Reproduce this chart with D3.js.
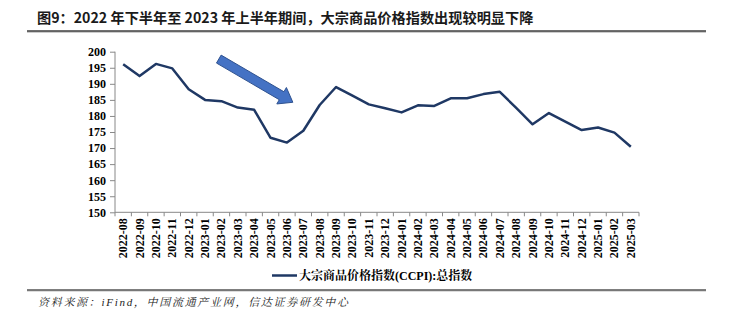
<!DOCTYPE html>
<html><head><meta charset="utf-8">
<script src="https://cdn.jsdelivr.net/npm/d3@7"></script>
<style>body{margin:0;background:#fff}svg{display:block}</style>
</head><body>
<svg id="c" width="734" height="323"></svg>
<script>
const categories = ["2022-08","2022-09","2022-10","2022-11","2022-12","2023-01","2023-02","2023-03","2023-04","2023-05","2023-06","2023-07","2023-08","2023-09","2023-10","2023-11","2023-12","2024-01","2024-02","2024-03","2024-04","2024-05","2024-06","2024-07","2024-08","2024-09","2024-10","2024-11","2024-12","2025-01","2025-02","2025-03"];
const values = [196.1,192.4,196.2,194.8,188.3,185.0,184.6,182.6,181.9,173.2,171.7,175.4,183.4,189.0,186.3,183.6,182.4,181.1,183.3,183.1,185.5,185.5,186.8,187.5,182.5,177.4,180.9,178.2,175.6,176.4,174.8,170.4];
const yTicks = [150,155,160,165,170,175,180,185,190,195,200];
const seriesName = "大宗商品价格指数(CCPI):总指数";
const titleText = "图9：2022 年下半年至 2023 年上半年期间，大宗商品价格指数出现较明显下降";
const sourceText = "资料来源：iFind，中国流通产业网，信达证券研发中心";
// arrow annotation in data terms (category position index, value)
const arrowStart = [5.84, 197.7];
const arrowEnd = [10.36, 184.25];

const svg = d3.select("#c");
const serif = "'Liberation Serif','Times New Roman','Noto Serif CJK SC','Noto Sans CJK SC',serif";
const cjk = "'Noto Sans CJK SC',sans-serif";

// title
svg.append("text").attr("x",37).attr("y",23).attr("font-family",cjk).attr("font-weight","bold")
  .attr("font-size",14.2).attr("fill","#1a1a1a").text(titleText);
svg.append("line").attr("x1",27).attr("x2",706).attr("y1",32).attr("y2",32).attr("stroke","#bbb").attr("stroke-width",1.5);
svg.append("line").attr("x1",27).attr("x2",706).attr("y1",31).attr("y2",31).attr("stroke","#404040").attr("stroke-width",1.6);

const x = d3.scaleBand().domain(categories).range([115,639]);
const y = d3.scaleLinear().domain([150,200]).range([212.3,51.7]);
const xi = i => x(categories[0]) + (i+0.5)*x.step();

// y axis
const ya = svg.append("g").attr("transform","translate(115,0)")
  .call(d3.axisLeft(y).tickValues(yTicks).tickSize(5).tickPadding(4).tickFormat(d3.format("d")));
ya.select(".domain").attr("stroke","#888").attr("d","M0,"+y(150)+"V"+y(200));
ya.selectAll(".tick line").attr("stroke","#888");
ya.selectAll("text").attr("font-family",serif).attr("font-weight","bold").attr("font-size",12).attr("fill","#000");

// x axis
const xa = svg.append("g").attr("transform","translate(0,"+y(150)+")");
xa.append("line").attr("x1",115).attr("x2",639).attr("stroke","#888");
const bounds = categories.map(c=>x(c)).concat([x(categories[categories.length-1])+x.bandwidth()]);
xa.selectAll(".tk").data(bounds).join("line").attr("x1",d=>d).attr("x2",d=>d).attr("y1",0).attr("y2",4).attr("stroke","#888");
xa.selectAll(".lb").data(categories).join("text")
  .attr("transform",d=>"translate("+(x(d)+x.bandwidth()/2+4)+",6) rotate(-90)")
  .attr("text-anchor","end").attr("font-family",serif).attr("font-weight","bold").attr("font-size",12).attr("fill","#000").text(d=>d);

// line
const line = d3.line().x((d,i)=>x(categories[i])+x.bandwidth()/2).y(d=>y(d));
svg.append("path").datum(values).attr("d",line).attr("fill","none").attr("stroke","#1F3864").attr("stroke-width",2.5).attr("stroke-linejoin","round");

// arrow
(function(){
  const x0 = xi(arrowStart[0]), y0 = y(arrowStart[1]);
  const x1 = xi(arrowEnd[0]), y1 = y(arrowEnd[1]);
  const dx=x1-x0, dy=y1-y0, L=Math.hypot(dx,dy), ux=dx/L, uy=dy/L, nx=-uy, ny=ux;
  const sw=4.6, hw=9.5, hl=13;
  const bx=x1-ux*hl, by=y1-uy*hl;
  const pts=[[x0+nx*sw,y0+ny*sw],[bx+nx*sw,by+ny*sw],[bx+nx*hw,by+ny*hw],[x1,y1],[bx-nx*hw,by-ny*hw],[bx-nx*sw,by-ny*sw],[x0-nx*sw,y0-ny*sw]];
  svg.append("path").attr("d","M"+pts.map(p=>p.join(",")).join("L")+"Z").attr("fill","#4472C4").attr("stroke","#2F528F").attr("stroke-width",1);
})();

// legend
svg.append("line").attr("x1",272).attr("x2",297).attr("y1",275.5).attr("y2",275.5).attr("stroke","#1F3864").attr("stroke-width",2.5);
svg.append("text").attr("x",299).attr("y",280).attr("font-family",serif).attr("font-weight","bold").attr("font-size",12).attr("fill","#000").text(seriesName);

// source
svg.append("line").attr("x1",27).attr("x2",706).attr("y1",291).attr("y2",291).attr("stroke","#bbb").attr("stroke-width",1);
svg.append("line").attr("x1",27).attr("x2",706).attr("y1",290).attr("y2",290).attr("stroke","#555").attr("stroke-width",1.3);
svg.append("text").attr("x",38).attr("y",306).attr("font-family",serif).attr("font-style","italic")
  .attr("font-size",11).attr("letter-spacing",1.7).attr("fill","#222").text(sourceText);
</script>
</body></html>
